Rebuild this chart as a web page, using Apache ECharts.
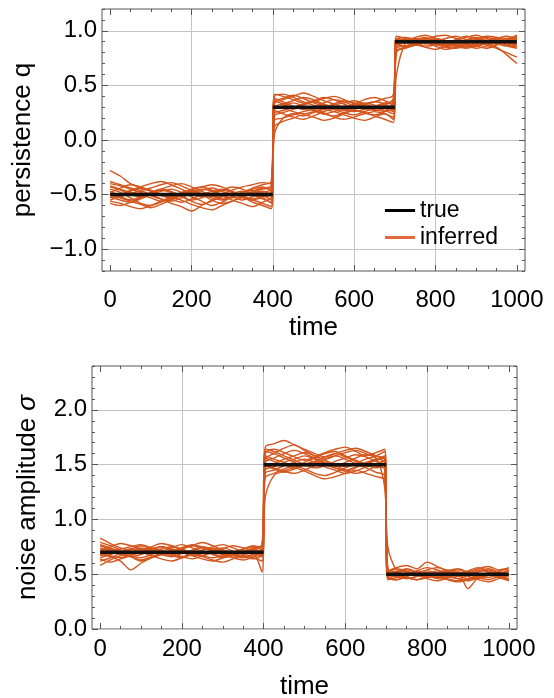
<!DOCTYPE html>
<html><head><meta charset="utf-8">
<script src="https://cdn.jsdelivr.net/npm/echarts@6/dist/echarts.min.js"></script>
<style>html,body{margin:0;padding:0;background:#fff}#c{width:554px;height:698px}</style>
</head><body><div id="c"></div><script>
const times = [0,25,50,75,100,125,150,175,200,225,250,275,300,325,350,375,396,404,425,450,475,500,525,550,575,600,625,650,675,696,704,725,750,775,800,825,850,875,900,925,950,975,1000];
const trueBreaks = [0,400,700,1000];
const trueQ = [-0.5,0.3,0.9];
const trueSigma = [0.7,1.5,0.5];
const xMajorTicks = [0,200,400,600,800,1000];
const xMinorTicks = [0,50,100,150,200,250,300,350,400,450,500,550,600,650,700,750,800,850,900,950,1000];
const xGridLines = [200,400,600,800];
const qTicks = [-1,-0.5,0,0.5,1];
const qMinorTicks = [-1.2,-1.1,-1,-0.9,-0.8,-0.7,-0.6,-0.5,-0.4,-0.3,-0.2,-0.1,0,0.1,0.2,0.3,0.4,0.5,0.6,0.7,0.8,0.9,1,1.1,1.2];
const sigmaTicks = [0,0.5,1,1.5,2];
const sigmaMinorTicks = [0,0.1,0.2,0.3,0.4,0.5,0.6,0.7,0.8,0.9,1,1.1,1.2,1.3,1.4,1.5,1.6,1.7,1.8,1.9,2,2.1,2.2,2.3,2.4];

// inferred persistence q traces (values at `times`)
const q01 = [-0.28,-0.33,-0.40,-0.44,-0.47,-0.50,-0.52,-0.49,-0.45,-0.43,-0.46,-0.50,-0.53,-0.51,-0.47,-0.44,-0.42, 0.40,0.42,0.39,0.35,0.32,0.30,0.33,0.36,0.34,0.31,0.29,0.32,0.38, 0.92,0.94,0.91,0.88,0.90,0.93,0.95,0.92,0.89,0.91,0.94,0.93,0.96];
const q02 = [-0.45,-0.48,-0.53,-0.58,-0.60,-0.57,-0.52,-0.48,-0.46,-0.50,-0.55,-0.58,-0.56,-0.52,-0.49,-0.47,-0.50, 0.22,0.25,0.28,0.30,0.27,0.24,0.22,0.25,0.29,0.31,0.28,0.26,0.30, 0.88,0.86,0.88,0.91,0.89,0.86,0.85,0.88,0.90,0.87,0.84,0.80,0.76];
const q03 = [-0.52,-0.55,-0.57,-0.54,-0.50,-0.47,-0.45,-0.48,-0.52,-0.56,-0.60,-0.57,-0.52,-0.48,-0.46,-0.50,-0.55, 0.35,0.38,0.41,0.38,0.34,0.31,0.29,0.27,0.30,0.33,0.35,0.33,0.28, 0.90,0.92,0.89,0.86,0.87,0.90,0.91,0.88,0.86,0.88,0.91,0.89,0.87];
const q04 = [-0.40,-0.42,-0.45,-0.48,-0.51,-0.54,-0.56,-0.53,-0.49,-0.46,-0.44,-0.47,-0.51,-0.55,-0.52,-0.48,-0.45, 0.30,0.33,0.36,0.39,0.37,0.33,0.30,0.28,0.26,0.28,0.31,0.34,0.36, 0.86,0.89,0.92,0.94,0.91,0.88,0.86,0.89,0.92,0.94,0.92,0.89,0.93];
const q05 = [-0.55,-0.52,-0.49,-0.47,-0.50,-0.54,-0.58,-0.61,-0.65,-0.60,-0.55,-0.51,-0.49,-0.52,-0.55,-0.53,-0.58, 0.18,0.20,0.23,0.26,0.28,0.25,0.21,0.19,0.21,0.24,0.26,0.24,0.21, 0.84,0.86,0.89,0.91,0.88,0.85,0.84,0.86,0.89,0.88,0.85,0.78,0.70];
const q06 = [-0.48,-0.44,-0.41,-0.43,-0.47,-0.51,-0.53,-0.50,-0.47,-0.49,-0.52,-0.50,-0.46,-0.43,-0.41,-0.39,-0.40, 0.42,0.40,0.37,0.34,0.36,0.39,0.37,0.33,0.30,0.32,0.35,0.38,0.41, 0.95,0.93,0.90,0.92,0.95,0.96,0.93,0.90,0.92,0.95,0.94,0.91,0.90];
const q07 = [-0.58,-0.60,-0.57,-0.53,-0.49,-0.46,-0.48,-0.52,-0.55,-0.53,-0.49,-0.46,-0.48,-0.52,-0.57,-0.60,-0.63, 0.05,0.20,0.24,0.22,0.25,0.28,0.26,0.23,0.20,0.18,0.21,0.24,0.19, 0.80,0.85,0.87,0.85,0.83,0.86,0.89,0.87,0.84,0.86,0.89,0.87,0.85];
const q08 = [-0.43,-0.46,-0.50,-0.52,-0.49,-0.45,-0.42,-0.40,-0.43,-0.47,-0.51,-0.54,-0.52,-0.48,-0.44,-0.41,-0.38, 0.38,0.35,0.31,0.28,0.30,0.34,0.37,0.35,0.31,0.28,0.30,0.33,0.35, 0.91,0.89,0.87,0.89,0.92,0.90,0.87,0.85,0.87,0.90,0.92,0.90,0.88];
const q09 = [-0.50,-0.53,-0.56,-0.59,-0.62,-0.59,-0.55,-0.51,-0.48,-0.45,-0.47,-0.51,-0.55,-0.58,-0.61,-0.57,-0.52, 0.27,0.24,0.21,0.19,0.22,0.26,0.29,0.31,0.28,0.25,0.23,0.26,0.33, 0.93,0.90,0.88,0.90,0.93,0.91,0.88,0.86,0.88,0.91,0.93,0.95,0.92];
const q10 = [-0.38,-0.41,-0.44,-0.46,-0.44,-0.41,-0.39,-0.42,-0.46,-0.50,-0.53,-0.55,-0.52,-0.48,-0.45,-0.43,-0.46, 0.33,0.37,0.40,0.43,0.40,0.36,0.33,0.30,0.33,0.37,0.39,0.36,0.32, 0.87,0.90,0.93,0.91,0.88,0.86,0.89,0.92,0.94,0.91,0.88,0.86,0.84];
const q11 = [-0.56,-0.58,-0.61,-0.63,-0.60,-0.56,-0.53,-0.55,-0.59,-0.62,-0.64,-0.60,-0.56,-0.53,-0.55,-0.58,-0.61, 0.12,0.17,0.20,0.23,0.21,0.18,0.20,0.24,0.27,0.25,0.22,0.19,0.16, 0.82,0.84,0.87,0.89,0.86,0.83,0.85,0.88,0.86,0.84,0.87,0.90,0.89];
const q12 = [-0.47,-0.50,-0.47,-0.43,-0.40,-0.38,-0.41,-0.45,-0.49,-0.52,-0.50,-0.46,-0.43,-0.45,-0.49,-0.52,-0.49, 0.36,0.33,0.30,0.32,0.35,0.38,0.40,0.37,0.33,0.30,0.27,0.29,0.34, 0.89,0.91,0.94,0.96,0.93,0.90,0.91,0.94,0.96,0.93,0.90,0.92,0.95];
const q13 = [-0.53,-0.50,-0.46,-0.44,-0.46,-0.50,-0.54,-0.57,-0.54,-0.50,-0.47,-0.45,-0.47,-0.51,-0.54,-0.51,-0.47, 0.28,0.31,0.34,0.31,0.27,0.24,0.26,0.29,0.32,0.34,0.32,0.29,0.26, 0.88,0.85,0.87,0.90,0.92,0.89,0.86,0.84,0.86,0.89,0.91,0.88,0.86];
const q14 = [-0.49,-0.52,-0.55,-0.52,-0.48,-0.45,-0.47,-0.51,-0.56,-0.59,-0.56,-0.52,-0.49,-0.47,-0.50,-0.54,-0.57, 0.24,0.27,0.30,0.33,0.35,0.32,0.28,0.25,0.23,0.26,0.29,0.31,0.27, 0.91,0.94,0.92,0.89,0.87,0.89,0.92,0.95,0.93,0.90,0.88,0.91,0.94];
const q15 = [-0.42,-0.45,-0.48,-0.50,-0.53,-0.56,-0.54,-0.50,-0.46,-0.43,-0.41,-0.43,-0.47,-0.50,-0.48,-0.45,-0.43, 0.31,0.29,0.26,0.24,0.26,0.29,0.32,0.34,0.36,0.33,0.30,0.27,0.24, 0.60,0.88,0.91,0.93,0.90,0.87,0.88,0.91,0.93,0.91,0.88,0.90,0.93];

// inferred noise amplitude sigma traces (values at `times`)
const s01 = [0.83,0.78,0.74,0.71,0.69,0.72,0.75,0.73,0.70,0.67,0.69,0.72,0.74,0.71,0.68,0.70,0.73, 1.62,1.60,1.56,1.52,1.49,1.51,1.55,1.58,1.55,1.51,1.48,1.50,1.54, 0.52,0.55,0.53,0.50,0.48,0.50,0.53,0.55,0.52,0.49,0.47,0.50,0.53];
const s02 = [0.58,0.63,0.67,0.70,0.73,0.71,0.68,0.66,0.69,0.72,0.75,0.73,0.70,0.67,0.65,0.68,0.71, 1.45,1.48,1.52,1.55,1.58,1.55,1.51,1.47,1.45,1.48,1.52,1.55,1.58, 0.47,0.45,0.48,0.51,0.53,0.51,0.48,0.46,0.49,0.52,0.54,0.51,0.48];
const s03 = [0.76,0.73,0.70,0.66,0.62,0.65,0.68,0.71,0.74,0.77,0.75,0.72,0.69,0.67,0.70,0.73,0.70, 1.55,1.60,1.65,1.68,1.63,1.58,1.55,1.58,1.61,1.63,1.60,1.56,1.52, 0.55,0.52,0.50,0.53,0.56,0.54,0.51,0.49,0.51,0.54,0.52,0.49,0.51];
const s04 = [0.68,0.66,0.62,0.54,0.60,0.65,0.68,0.70,0.72,0.70,0.67,0.65,0.67,0.70,0.72,0.69,0.66, 1.38,1.42,1.46,1.49,1.46,1.42,1.40,1.43,1.47,1.50,1.47,1.43,1.40, 0.50,0.48,0.46,0.48,0.51,0.49,0.46,0.44,0.46,0.49,0.51,0.48,0.46];
const s05 = [0.72,0.75,0.78,0.76,0.73,0.70,0.68,0.71,0.74,0.76,0.74,0.71,0.68,0.70,0.73,0.75,0.72, 1.66,1.69,1.72,1.68,1.64,1.60,1.57,1.60,1.63,1.65,1.62,1.58,1.55, 0.53,0.56,0.58,0.55,0.61,0.57,0.53,0.50,0.52,0.55,0.57,0.54,0.56];
const s06 = [0.65,0.68,0.71,0.73,0.70,0.67,0.64,0.62,0.65,0.68,0.66,0.63,0.61,0.64,0.67,0.65,0.62, 1.20,1.40,1.44,1.47,1.44,1.40,1.37,1.39,1.42,1.45,1.42,1.39,1.36, 0.46,0.49,0.51,0.49,0.46,0.44,0.47,0.50,0.48,0.45,0.43,0.46,0.49];
const s07 = [0.79,0.76,0.72,0.69,0.72,0.75,0.78,0.76,0.73,0.70,0.72,0.75,0.77,0.74,0.71,0.73,0.76, 1.58,1.55,1.52,1.49,1.52,1.56,1.60,1.62,1.58,1.54,1.51,1.54,1.57, 0.50,0.52,0.55,0.52,0.49,0.47,0.50,0.52,0.37,0.47,0.50,0.52,0.50];
const s08 = [0.70,0.67,0.65,0.68,0.71,0.74,0.72,0.69,0.66,0.64,0.67,0.70,0.72,0.69,0.66,0.68,0.52, 1.50,1.47,1.44,1.42,1.45,1.49,1.52,1.49,1.45,1.42,1.44,1.48,1.46, 0.48,0.50,0.47,0.45,0.47,0.50,0.52,0.49,0.46,0.48,0.51,0.49,0.46];
const s09 = [0.62,0.65,0.69,0.72,0.74,0.71,0.68,0.70,0.73,0.76,0.79,0.76,0.72,0.70,0.73,0.76,0.74, 1.64,1.62,1.58,1.54,1.50,1.47,1.49,1.53,1.56,1.59,1.57,1.53,1.50, 0.54,0.51,0.49,0.51,0.54,0.56,0.53,0.50,0.53,0.56,0.53,0.51,0.54];
const s10 = [0.74,0.71,0.68,0.66,0.63,0.66,0.69,0.72,0.70,0.67,0.64,0.62,0.65,0.68,0.71,0.69,0.67, 1.47,1.51,1.55,1.58,1.61,1.58,1.54,1.50,1.48,1.51,1.55,1.58,1.62, 0.45,0.47,0.50,0.53,0.51,0.48,0.45,0.43,0.45,0.48,0.50,0.47,0.44];
const s11 = [0.67,0.70,0.73,0.75,0.77,0.74,0.71,0.68,0.66,0.69,0.72,0.74,0.71,0.68,0.66,0.64,0.68, 1.52,1.56,1.60,1.63,1.60,1.56,1.52,1.49,1.52,1.56,1.59,1.56,1.30, 0.75,0.54,0.52,0.49,0.47,0.49,0.52,0.54,0.51,0.48,0.50,0.53,0.55];
const s12 = [0.71,0.73,0.70,0.67,0.65,0.68,0.71,0.74,0.77,0.74,0.71,0.69,0.66,0.68,0.71,0.74,0.77, 1.42,1.45,1.49,1.52,1.55,1.52,1.48,1.45,1.42,1.44,1.48,1.51,1.49, 0.51,0.49,0.46,0.48,0.51,0.53,0.50,0.48,0.50,0.53,0.55,0.52,0.49];
const s13 = [0.64,0.61,0.64,0.67,0.70,0.73,0.75,0.72,0.69,0.71,0.74,0.71,0.68,0.65,0.63,0.66,0.69, 1.56,1.53,1.50,1.47,1.50,1.53,1.57,1.60,1.57,1.53,1.50,1.47,1.50, 0.49,0.52,0.54,0.51,0.48,0.51,0.54,0.51,0.48,0.46,0.49,0.52,0.50];
const s14 = [0.77,0.74,0.71,0.73,0.76,0.73,0.70,0.67,0.65,0.68,0.71,0.68,0.65,0.67,0.70,0.72,0.70, 1.60,1.64,1.61,1.57,1.54,1.57,1.61,1.64,1.66,1.62,1.58,1.61,1.64, 0.52,0.50,0.47,0.45,0.48,0.51,0.49,0.46,0.44,0.47,0.50,0.48,0.45];
const s15 = [0.69,0.72,0.69,0.66,0.68,0.71,0.73,0.75,0.72,0.69,0.67,0.70,0.73,0.76,0.74,0.71,0.68, 1.49,1.46,1.43,1.46,1.50,1.53,1.50,1.47,1.44,1.47,1.51,1.54,1.56, 0.47,0.45,0.48,0.51,0.49,0.46,0.49,0.52,0.50,0.47,0.45,0.48,0.51];

const qTraces = [q01,q02,q03,q04,q05,q06,q07,q08,q09,q10,q11,q12,q13,q14,q15];
const sigmaTraces = [s01,s02,s03,s04,s05,s06,s07,s08,s09,s10,s11,s12,s13,s14,s15];

const FONT = '"Liberation Sans", Arial, sans-serif';
const ORANGE = '#d4561d';
const FRAME = '#555';
const GRIDC = '#c4c4c4';
const TICKFS = 24;
const NAMEFS = 26;

function fmt(v) {
  const s = Math.abs(v).toFixed(1);
  return (v < -1e-9 ? '\u2212' : '') + s;
}

function xAxes(g, labelMargin, nameGap) {
  const base = () => ({
    type: 'value', gridIndex: g, min: -20, max: 1020,
    axisLine: {show: false, onZero: false},
    splitLine: {show: false}, axisLabel: {show: false}, axisTick: {show: false}
  });
  const a0 = Object.assign(base(), {
    position: 'bottom',
    name: 'time', nameLocation: 'middle', nameGap: nameGap,
    nameTextStyle: {fontSize: NAMEFS, color: '#000', fontFamily: FONT},
    axisTick: {show: true, inside: true, length: 6, customValues: xMajorTicks, lineStyle: {color: FRAME, width: 1}},
    axisLabel: {show: true, customValues: xMajorTicks, margin: labelMargin, fontSize: TICKFS, color: '#000', fontFamily: FONT,
      formatter: v => String(Math.round(v))}
  });
  const a1 = Object.assign(base(), {position: 'bottom',
    axisTick: {show: true, inside: true, length: 3, customValues: xMinorTicks, lineStyle: {color: FRAME, width: 1}}});
  const a2 = Object.assign(base(), {position: 'top',
    axisTick: {show: true, inside: true, length: 6, customValues: xMajorTicks, lineStyle: {color: FRAME, width: 1}}});
  const a3 = Object.assign(base(), {position: 'top',
    axisTick: {show: true, inside: true, length: 3, customValues: xMinorTicks, lineStyle: {color: FRAME, width: 1}}});
  const a4 = Object.assign(base(), {position: 'bottom',
    axisTick: {show: false, customValues: xGridLines},
    splitLine: {show: true, lineStyle: {color: GRIDC, width: 1}}});
  return [a0, a1, a2, a3, a4];
}

function yAxes(g, min, max, major, minor, name, nameGap) {
  const base = () => ({
    type: 'value', gridIndex: g, min: min, max: max,
    axisLine: {show: false, onZero: false},
    splitLine: {show: false}, axisLabel: {show: false}, axisTick: {show: false}
  });
  const b0 = Object.assign(base(), {
    position: 'left',
    name: name, nameLocation: 'middle', nameGap: nameGap, nameRotate: 90,
    nameTextStyle: {fontSize: NAMEFS, color: '#000', fontFamily: FONT,
      rich: {i: {fontStyle: 'italic', fontSize: NAMEFS, color: '#000', fontFamily: FONT}}},
    axisTick: {show: true, inside: true, length: 6, customValues: major, lineStyle: {color: FRAME, width: 1}},
    axisLabel: {show: true, customValues: major, margin: 5, fontSize: TICKFS, color: '#000', fontFamily: FONT, formatter: fmt},
    splitLine: {show: true, lineStyle: {color: GRIDC, width: 1}}
  });
  const b1 = Object.assign(base(), {position: 'left',
    axisTick: {show: true, inside: true, length: 3, customValues: minor, lineStyle: {color: FRAME, width: 1}}});
  const b2 = Object.assign(base(), {position: 'right',
    axisTick: {show: true, inside: true, length: 6, customValues: major, lineStyle: {color: FRAME, width: 1}}});
  const b3 = Object.assign(base(), {position: 'right',
    axisTick: {show: true, inside: true, length: 3, customValues: minor, lineStyle: {color: FRAME, width: 1}}});
  return [b0, b1, b2, b3];
}

function traceData(vals) {
  const n = Math.min(times.length, vals.length);
  const d = [];
  for (let i = 0; i < n; i++) d.push([times[i], vals[i]]);
  return d;
}
function stepData(levels) {
  const d = [];
  for (let i = 0; i < levels.length; i++) {
    d.push([trueBreaks[i], levels[i]]);
    d.push([trueBreaks[i + 1], levels[i]]);
    if (i < levels.length - 1) d.push([trueBreaks[i + 1], null]);
  }
  return d;
}

const series = [];
qTraces.forEach(t => series.push({
  type: 'line', name: 'inferred', xAxisIndex: 0, yAxisIndex: 0,
  data: traceData(t), showSymbol: false, symbol: 'none', smooth: 0.3,
  lineStyle: {color: ORANGE, width: 1.4}, itemStyle: {color: ORANGE}, z: 2, silent: true
}));
sigmaTraces.forEach(t => series.push({
  type: 'line', name: 'inferred', xAxisIndex: 5, yAxisIndex: 4,
  data: traceData(t), showSymbol: false, symbol: 'none', smooth: 0.3,
  lineStyle: {color: ORANGE, width: 1.4}, itemStyle: {color: ORANGE}, z: 2, silent: true
}));
series.push({
  type: 'line', name: 'true', xAxisIndex: 0, yAxisIndex: 0, data: stepData(trueQ),
  showSymbol: false, symbol: 'none', connectNulls: false,
  lineStyle: {color: '#111', width: 3.5}, itemStyle: {color: '#111'}, z: 3, silent: true
});
series.push({
  type: 'line', name: 'true', xAxisIndex: 5, yAxisIndex: 4, data: stepData(trueSigma),
  showSymbol: false, symbol: 'none', connectNulls: false,
  lineStyle: {color: '#111', width: 3.5}, itemStyle: {color: '#111'}, z: 3, silent: true
});

const chart = echarts.init(document.getElementById('c'), null, {renderer: 'canvas'});
chart.setOption({
  animation: false,
  backgroundColor: '#fff',
  grid: [
    {left: 102, top: 9, right: 29, height: 262, show: true, borderColor: FRAME, borderWidth: 1, backgroundColor: 'transparent', containLabel: false, outerBoundsMode: 'none'},
    {left: 92, top: 366, right: 37, height: 263, show: true, borderColor: FRAME, borderWidth: 1, backgroundColor: 'transparent', containLabel: false, outerBoundsMode: 'none'}
  ],
  xAxis: xAxes(0, 17, 44).concat(xAxes(1, 8, 45)),
  yAxis: yAxes(0, -1.2, 1.2, qTicks, qMinorTicks, 'persistence q', 66)
    .concat(yAxes(1, 0, 2.4, sigmaTicks, sigmaMinorTicks, 'noise amplitude {i|\u03c3}', 51)),
  legend: {
    show: true, orient: 'vertical', left: 380, top: 194, itemWidth: 30, itemHeight: 3, itemGap: 4,
    selectedMode: false,
    textStyle: {fontSize: 23, color: '#000', fontFamily: FONT},
    data: [
      {name: 'true', icon: 'rect', itemStyle: {color: '#000'}},
      {name: 'inferred', icon: 'rect', itemStyle: {color: '#e06a3a'}}
    ]
  },
  series: series
});
</script></body></html>
